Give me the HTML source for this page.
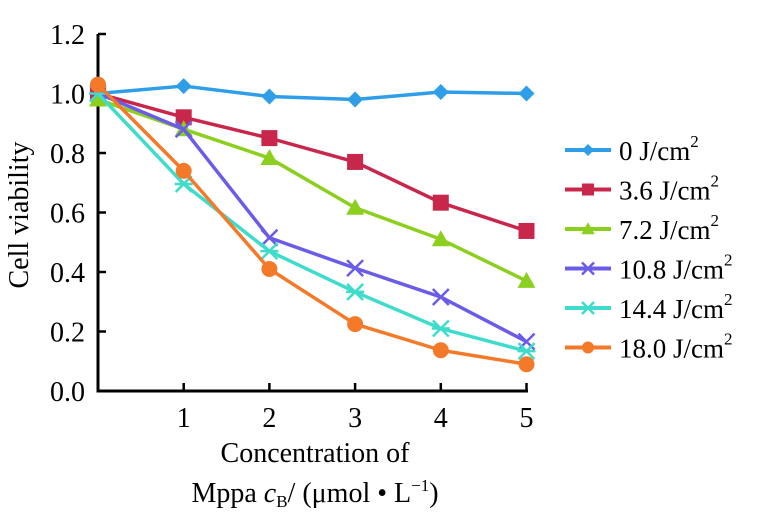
<!DOCTYPE html>
<html><head><meta charset="utf-8"><style>
body{margin:0;background:#fff;}
svg, svg text{font-family:"Liberation Serif","Times New Roman",serif !important;}
</style></head><body>
<svg id="chart" width="761" height="526" viewBox="0 0 761 526" xmlns="http://www.w3.org/2000/svg" font-family="Liberation Serif, serif">
<g id="axes"></g>
<g id="series"></g>
<g id="legend"></g>
<text x="0" y="0" transform="translate(28,215) rotate(-90)" text-anchor="middle" font-size="28">Cell viability</text>
<text x="315" y="462" text-anchor="middle" font-size="28">Concentration of</text>
<text x="315" y="502" text-anchor="middle" font-size="28">Mppa <tspan font-style="italic">c</tspan><tspan font-size="17" dy="5">B</tspan><tspan dy="-5">/ (μmol • L</tspan><tspan font-size="17" dy="-11">−1</tspan><tspan dy="11">)</tspan></text>
</svg>
<script>
const xCategories = [0, 1, 2, 3, 4, 5];
const xTickLabels = ["1", "2", "3", "4", "5"];
const xTickValues = [1, 2, 3, 4, 5];
const yTickValues = [0, 0.2, 0.4, 0.6, 0.8, 1.0, 1.2];
const yTickLabels = ["0.0", "0.2", "0.4", "0.6", "0.8", "1.0", "1.2"];
const seriesNames = ["0 J/cm", "3.6 J/cm", "7.2 J/cm", "10.8 J/cm", "14.4 J/cm", "18.0 J/cm"];
const s0 = [1.0, 1.025, 0.99, 0.98, 1.005, 1.0];
const s36 = [1.0, 0.92, 0.85, 0.77, 0.633, 0.538];
const s72 = [0.98, 0.88, 0.783, 0.616, 0.51, 0.37];
const s108 = [1.0, 0.88, 0.515, 0.413, 0.316, 0.166];
const s144 = [1.0, 0.696, 0.47, 0.333, 0.21, 0.134];
const s180 = [1.03, 0.74, 0.41, 0.225, 0.137, 0.09];

const NS = "http://www.w3.org/2000/svg";
const X0 = 98, XU = 85.7, Y0 = 391, YU = 297.5;
const xs = v => X0 + v * XU;
const ys = v => Y0 - v * YU;
function mk(tag, attrs, parent) {
  const e = document.createElementNS(NS, tag);
  for (const k in attrs) e.setAttribute(k, attrs[k]);
  parent.appendChild(e);
  return e;
}
const axes = document.getElementById("axes");
let a = mk("line", {x1: X0, y1: ys(1.2), x2: X0, y2: Y0, stroke: "#000", "stroke-width": 3}, axes);


a = mk("line", {x1: X0 - 1.5, y1: Y0, x2: xs(5) + 1.5, y2: Y0, stroke: "#000", "stroke-width": 3}, axes);


yTickValues.forEach((v, i) => {
  const t = mk("line", {x1: X0, y1: ys(v), x2: X0 + 8, y2: ys(v), stroke: "#000", "stroke-width": 2.5}, axes);
  
  
  const l = mk("text", {x: 85, y: ys(v) + 10, "text-anchor": "end", "font-size": 28}, axes);
  l.textContent = yTickLabels[i];
  
  
});
xTickValues.forEach((v, i) => {
  const t = mk("line", {x1: xs(v), y1: Y0, x2: xs(v), y2: Y0 - 8, stroke: "#000", "stroke-width": 2.5}, axes);
  
  
  const l = mk("text", {x: xs(v), y: 427, "text-anchor": "middle", "font-size": 28}, axes);
  l.textContent = xTickLabels[i];
  
  
});
const colors = ["#2f9ee8", "#c8264a", "#8ccf1e", "#6a5ce8", "#3fdccc", "#f47a2a"];
const markers = ["diamond", "square", "triangle", "x", "star", "circle"];
const allSeries = [s0, s36, s72, s108, s144, s180];
function marker(type, cx, cy, c, p, scale) {
  const s = scale;
  let e;
  if (type === "diamond") e = mk("polygon", {points: `${cx},${cy-8*s} ${cx+8*s},${cy} ${cx},${cy+8*s} ${cx-8*s},${cy}`, fill: c}, p);
  else if (type === "square") e = mk("rect", {x: cx-8*s, y: cy-8*s, width: 16*s, height: 16*s, fill: c}, p);
  else if (type === "triangle") e = mk("polygon", {points: `${cx},${cy-9*s} ${cx+9*s},${cy+7*s} ${cx-9*s},${cy+7*s}`, fill: c}, p);
  else if (type === "circle") e = mk("circle", {cx: cx, cy: cy, r: 8*s, fill: c}, p);
  else if (type === "x") e = mk("path", {d: `M${cx-8*s},${cy-8*s}L${cx+8*s},${cy+8*s}M${cx+8*s},${cy-8*s}L${cx-8*s},${cy+8*s}`, stroke: c, "stroke-width": 2.5, fill: "none"}, p);
  else e = mk("path", {d: `M${cx-8*s},${cy-8*s}L${cx+8*s},${cy+8*s}M${cx+8*s},${cy-8*s}L${cx-8*s},${cy+8*s}M${cx-9*s},${cy}L${cx+9*s},${cy}`, stroke: c, "stroke-width": 2.5, fill: "none"}, p);
  return e;
}
const sg = document.getElementById("series");
allSeries.forEach((vals, si) => {
  const g = mk("g", {}, sg);
  
  
  const pts = vals.map((v, i) => xs(xCategories[i]) + "," + ys(v)).join(" ");
  const pl = mk("polyline", {points: pts, fill: "none", stroke: colors[si], "stroke-width": 3.5, "stroke-linejoin": "round"}, g);
  
  
  vals.forEach((v, i) => {
    const m = marker(markers[si], xs(xCategories[i]), ys(v), colors[si], g, 1);
    
    
  });
});
const lg = document.getElementById("legend");
seriesNames.forEach((n, i) => {
  const y = 150 + i * 39.5;
  const g = mk("g", {}, lg);
  
  
  mk("line", {x1: 565, y1: y, x2: 611, y2: y, stroke: colors[i], "stroke-width": 4}, g);
  marker(markers[i], 588, y, colors[i], g, 0.75);
  const t = mk("text", {x: 619, y: y + 10, "font-size": 27}, g);
  t.textContent = n;
  const sup = mk("tspan", {"font-size": 17, dy: -13}, t);
  sup.textContent = "2";
});
</script>
</body></html>
